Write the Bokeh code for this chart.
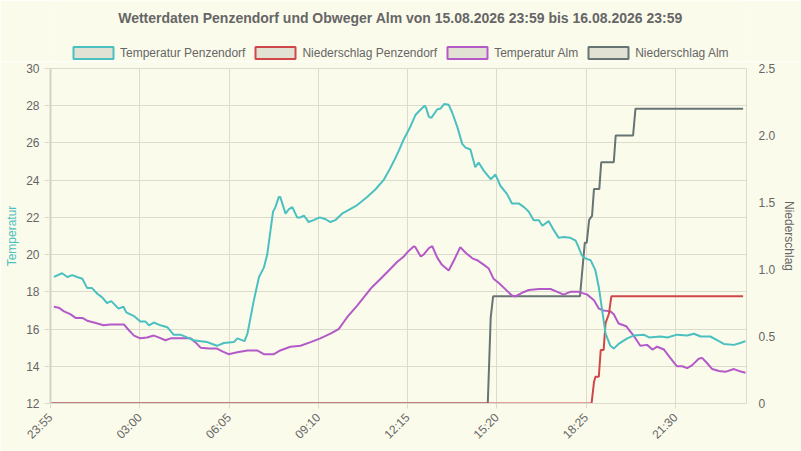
import math
import numpy as np
from bokeh.plotting import figure
from bokeh.layouts import column
from bokeh.models import (Range1d, LinearAxis, FixedTicker, Legend, LegendItem, Label)
from bokeh.embed import file_html
from bokeh.resources import INLINE

# ---- data (x = minutes after 15.08. 23:55) ----
tick_minutes = [0, 185, 370, 555, 740, 925, 1110, 1295]
tick_labels = ["23:55", "03:00", "06:05", "09:10", "12:15", "15:20", "18:25", "21:30"]
x_end = 1442

tp_t = [7,24,35,45,55,66,76,86,97,107,117,126,141,151,157,173,186,197,204,214,228,242,255,269,283,297,311,325,335,345,359,380,387,402,408,421,432,442,449,461,466,473,476,487,494,501,511,518,525,535,545,558,570,580,590,604,618,632,642,656,673,690,701,711,722,732,746,756,767,775,778,784,789,801,808,816,825,832,843,853,860,870,880,887,898,912,922,932,946,956,970,981,991,1001,1012,1019,1032,1043,1053,1063,1077,1088,1094,1101,1108,1119,1129,1136,1143,1150,1160,1167,1177,1195,1208,1229,1240,1264,1278,1298,1319,1333,1347,1367,1381,1395,1416,1429,1440]
tp_v = [18.8,19.0,18.8,18.9,18.8,18.7,18.2,18.2,17.9,17.7,17.4,17.5,17.1,17.2,16.9,16.7,16.4,16.4,16.2,16.35,16.2,16.1,15.7,15.7,15.55,15.4,15.35,15.3,15.2,15.1,15.25,15.3,15.5,15.35,15.75,17.5,18.8,19.3,20.0,22.3,22.55,23.1,23.1,22.2,22.45,22.55,22.0,22.0,22.1,21.75,21.85,22.0,21.9,21.75,21.85,22.2,22.4,22.6,22.8,23.1,23.5,24.0,24.5,25.0,25.6,26.2,26.9,27.5,27.8,28.0,27.9,27.4,27.35,27.8,27.85,28.1,28.05,27.65,26.85,25.95,25.75,25.65,24.7,24.95,24.5,24.05,24.3,23.7,23.25,22.75,22.75,22.55,22.3,21.85,21.85,21.55,21.8,21.3,20.9,20.95,20.9,20.75,20.4,19.95,19.8,19.7,19.15,18.25,17.0,15.75,15.1,14.95,15.2,15.5,15.65,15.7,15.55,15.6,15.55,15.7,15.65,15.75,15.6,15.6,15.4,15.2,15.15,15.25,15.35]

ta_t = [7,17,28,41,52,66,76,90,110,124,152,162,173,186,200,214,224,238,249,290,300,311,328,345,356,369,387,408,428,442,463,476,497,518,539,559,580,597,615,635,649,666,684,701,718,732,742,753,756,767,773,784,791,801,811,825,836,849,860,874,884,898,908,918,930,946,956,963,977,991,1012,1022,1036,1050,1063,1077,1094,1112,1126,1136,1146,1160,1167,1177,1193,1208,1222,1236,1247,1257,1271,1284,1298,1309,1319,1329,1343,1350,1361,1371,1385,1398,1416,1426,1440]
ta_v = [17.2,17.15,16.95,16.8,16.6,16.6,16.45,16.35,16.2,16.25,16.25,15.95,15.65,15.5,15.55,15.65,15.55,15.4,15.5,15.5,15.3,15.0,14.95,14.95,14.8,14.65,14.75,14.85,14.85,14.65,14.65,14.85,15.05,15.1,15.3,15.5,15.75,16.0,16.65,17.25,17.7,18.25,18.7,19.15,19.6,19.9,20.2,20.45,20.4,19.9,20.0,20.35,20.45,19.85,19.45,19.15,19.7,20.4,20.1,19.8,19.7,19.45,19.25,18.7,18.45,18.05,17.8,17.75,17.95,18.1,18.15,18.15,18.15,18.0,17.85,18.0,18.0,17.85,17.55,17.1,17.0,16.95,16.8,16.3,16.15,15.65,15.1,15.15,14.9,15.05,14.9,14.45,14.0,14.0,13.9,14.05,14.4,14.45,14.15,13.85,13.75,13.7,13.85,13.75,13.65]

np_t = [0, 1121, 1126, 1129, 1136, 1140, 1146, 1150, 1157, 1162, 1435]
np_v = [0, 0, 0.16, 0.2, 0.2, 0.4, 0.4, 0.6, 0.67, 0.8, 0.8]

na_t = [0, 906, 912, 917, 1097, 1102, 1107, 1111, 1116, 1122, 1126, 1137, 1141, 1167, 1171, 1207, 1212, 1435]
na_v = [0, 0, 0.64, 0.8, 0.8, 1.0, 1.2, 1.2, 1.37, 1.4, 1.6, 1.6, 1.8, 1.8, 2.0, 2.0, 2.2, 2.2]

temp_ticks = [12, 14, 16, 18, 20, 22, 24, 26, 28, 30]
rain_ticks = [0, 0.5, 1.0, 1.5, 2.0, 2.5]
rain_labels = ["0", "0.5", "1.0", "1.5", "2.0", "2.5"]

title_text = "Wetterdaten Penzendorf und Obweger Alm von 15.08.2026 23:59 bis 16.08.2026 23:59"
names = ["Temperatur Penzendorf", "Niederschlag Penzendorf", "Temperatur Alm", "Niederschlag Alm"]
colors = ["#4bc0c0", "#d0474a", "#b45ac8", "#677474"]

BG = "#fbfbec"
GRID = "#dcdccd"
TXT = "#666666"
FONT = "Liberation Sans"

W = 801
HEAD_H = 61
MAIN_H = 451 - HEAD_H
FRAME_LEFT = 50   # the column aligns the header frame with the chart frame

# ---------------- header: title + legend ----------------
head = figure(width=W, height=HEAD_H, output_backend="svg", toolbar_location=None, title=None,
              x_range=Range1d(0, 1), y_range=Range1d(0, 1),
              x_axis_location=None, y_axis_location=None,
              min_border_left=0, min_border_right=0, min_border_top=0, min_border_bottom=0,
              background_fill_color=BG, border_fill_color=BG)
head.outline_line_color = None
head.xgrid.visible = False
head.ygrid.visible = False

head.add_layout(Label(x=400 - FRAME_LEFT, y=HEAD_H - 17, x_units="screen", y_units="screen",
                      text=title_text, text_align="center", text_baseline="middle", text_font=FONT,
                      text_font_size="14px", text_font_style="bold", text_color=TXT))

items = []
for n, c in zip(names, colors):
    r = head.quad(left=np.array([np.nan]), right=np.array([np.nan]),
                  top=np.array([np.nan]), bottom=np.array([np.nan]),
                  fill_color="#e2e2d4", line_color=c, line_width=2)
    items.append(LegendItem(label=n, renderers=[r]))
leg = Legend(items=items, orientation="horizontal", location=(68 - FRAME_LEFT, 1),
             glyph_width=50, glyph_height=15, label_standoff=2, spacing=5,
             padding=0, margin=0, background_fill_alpha=0, border_line_color=None,
             label_text_font=FONT, label_text_font_size="12px", label_text_color=TXT)
head.add_layout(leg, "center")

# ---------------- main chart ----------------
p = figure(width=W, height=MAIN_H, output_backend="svg", toolbar_location=None, title=None,
           x_range=Range1d(0, x_end), y_range=Range1d(temp_ticks[0], temp_ticks[-1]),
           min_border_left=FRAME_LEFT, min_border_right=55, min_border_top=68 - HEAD_H,
           min_border_bottom=48,
           background_fill_color=BG, border_fill_color=BG)
p.extra_y_ranges = {"rain": Range1d(rain_ticks[0], rain_ticks[-1])}
p.outline_line_color = GRID

# x axis
xa = p.xaxis[0]
xa.ticker = FixedTicker(ticks=tick_minutes)
xa.major_label_overrides = {m: l for m, l in zip(tick_minutes, tick_labels)}
xa.major_label_orientation = math.pi / 4
xa.axis_line_color = GRID
xa.major_tick_line_color = GRID
xa.major_tick_out = 5
xa.major_tick_in = 0
xa.minor_tick_line_color = None
xa.major_label_text_font = FONT
xa.major_label_text_font_size = "12px"
xa.major_label_text_color = TXT
xa.major_label_standoff = 7

# left axis
ya = p.yaxis[0]
ya.ticker = FixedTicker(ticks=temp_ticks)
ya.axis_label = "Temperatur"
ya.axis_label_text_color = colors[0]
ya.axis_label_text_font = FONT
ya.axis_label_text_font_size = "12px"
ya.axis_label_text_font_style = "normal"
ya.axis_label_standoff = 4
ya.axis_line_color = "#d4d4c4"
ya.axis_line_width = 2
ya.major_tick_line_color = GRID
ya.major_tick_out = 6
ya.major_tick_in = 0
ya.minor_tick_line_color = None
ya.major_label_text_font = FONT
ya.major_label_text_font_size = "12px"
ya.major_label_text_color = TXT
ya.major_label_standoff = 5

# right axis
ra = LinearAxis(y_range_name="rain", ticker=FixedTicker(ticks=rain_ticks),
                major_label_overrides={t: l for t, l in zip(rain_ticks, rain_labels)})
ra.axis_label = "Niederschlag"
ra.axis_label_text_color = TXT
ra.axis_label_text_font = FONT
ra.axis_label_text_font_size = "12px"
ra.axis_label_text_font_style = "normal"
ra.axis_label_standoff = 4
ra.axis_line_color = None
ra.major_tick_line_color = None
ra.major_tick_out = 0
ra.major_tick_in = 0
ra.minor_tick_line_color = None
ra.major_label_text_font = FONT
ra.major_label_text_font_size = "12px"
ra.major_label_text_color = TXT
ra.major_label_standoff = 12
p.add_layout(ra, "right")

p.xgrid.ticker = FixedTicker(ticks=tick_minutes)
p.xgrid.grid_line_color = GRID
p.ygrid.grid_line_color = GRID

# lines (first dataset on top)
p.line(na_t, na_v, y_range_name="rain", line_color=colors[3], line_width=2)
p.line(ta_t, ta_v, line_color=colors[2], line_width=2)
p.line(np_t, np_v, y_range_name="rain", line_color=colors[1], line_width=2)
p.line(tp_t, tp_v, line_color=colors[0], line_width=2)

layout = column(head, p, spacing=0)
open("out.html", "w").write(file_html(layout, INLINE))
